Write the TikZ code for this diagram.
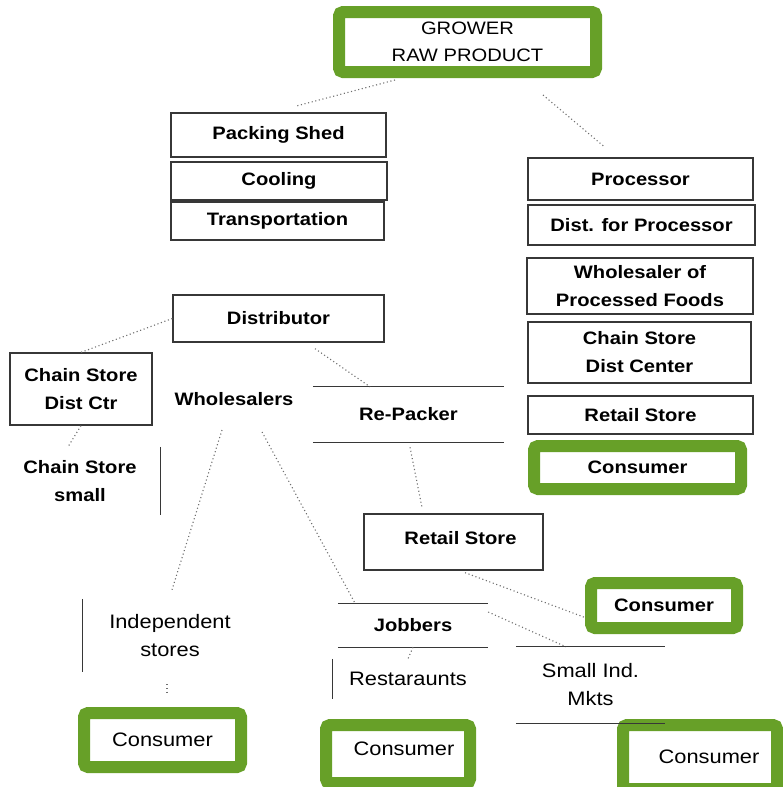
\documentclass[tikz,border=0pt]{standalone}
\usepackage{fontspec}
\setmainfont{Liberation Sans}[FakeStretch=1.12]
\definecolor{grn}{RGB}{103,160,40}
\definecolor{ln}{RGB}{55,55,55}
\definecolor{dt}{RGB}{110,110,110}
\newcommand\fbld{\fontsize{18}{28}\selectfont\bfseries}
\newcommand\freg{\fontsize{19.5}{28}\selectfont}
\newcommand\fgrw{\fontsize{18}{27}\selectfont}
\tikzset{
  box/.style={draw=ln, line width=1.3pt, inner sep=0pt, font=\fbld, align=center},
  gbox/.style={draw=grn, line width=12pt, rounded corners=4pt, inner sep=0pt, align=center, fill=white},
  openbox/.style={inner sep=0pt, align=center},
  edgeline/.style={draw=ln, line width=1.3pt},
  conn/.style={draw=dt, line width=1.1pt, dash pattern=on 1.1pt off 2.6pt},
}
\begin{document}
\begin{tikzpicture}[x=1pt,y=-1pt]
\useasboundingbox (0,0) rectangle (783,787);
% top
\node[gbox, minimum width=257pt, minimum height=60pt, font=\fgrw] (grower) at (467.5,42) {GROWER\\RAW PRODUCT};
% left column
\node[box, minimum width=215pt, minimum height=44pt] (ps) at (278.5,135) {Packing Shed};
\node[box, minimum width=216pt, minimum height=38pt] (cool) at (279,181) {Cooling};
\node[box, minimum width=213pt, minimum height=38pt] (trans) at (277.5,221) {Transportation};
% right column
\node[box, minimum width=225pt, minimum height=42pt] (proc) at (640.5,179) {Processor};
\node[box, minimum width=227pt, minimum height=40pt] (dfp) at (641.5,225) {Dist. for Processor};
\node[box, minimum width=226pt, minimum height=56pt] (wpf) at (640,286) {Wholesaler of\\Processed Foods};
\node[box, minimum width=223pt, minimum height=61pt] (csdc2) at (639.5,352.5) {Chain Store\\Dist Center};
\node[box, minimum width=225pt, minimum height=38pt] (rs1) at (640.5,415) {Retail Store};
\node[gbox, minimum width=207pt, minimum height=43pt, font=\fbld] (c1) at (637.5,467.5) {Consumer};
% middle
\node[box, minimum width=211pt, minimum height=47pt] (dist) at (278.5,318.5) {Distributor};
\node[box, minimum width=142pt, minimum height=72pt] (csdc) at (81,389) {Chain Store\\Dist Ctr};
\node[openbox, font=\fbld] (ws) at (234,399) {Wholesalers};
\node[openbox, minimum width=191pt, minimum height=55pt, font=\fbld] (rp) at (408.5,414.5) {Re-Packer};
\node[openbox, minimum width=160pt, minimum height=68pt, font=\fbld] (css) at (80,481) {Chain Store\\small};
\node[box, minimum width=179pt, minimum height=56pt] (rs2) at (453.5,542) {\raisebox{8pt}{\hspace*{14pt}Retail Store}};
\node[gbox, minimum width=146pt, minimum height=45pt, font=\fbld] (c2) at (664,605.5) {Consumer};
% bottom
\node[openbox, minimum width=174pt, minimum height=73pt, font=\freg] (ind) at (170,635.5) {Independent\\stores};
\node[gbox, minimum width=157pt, minimum height=54pt, font=\freg] (c3) at (162.5,740) {Consumer};
\node[openbox, minimum width=150pt, minimum height=43pt, font=\fbld] (job) at (413,625.5) {Jobbers};
\node[openbox, minimum width=150pt, minimum height=40pt, font=\freg] (rest) at (408,679) {Restaraunts};
\node[gbox, minimum width=144pt, minimum height=58pt, font=\freg] (c4) at (398,754) {\raisebox{10pt}{\hspace*{12pt}Consumer}};
\node[gbox, minimum width=154pt, minimum height=64pt, font=\freg] (c5) at (700,757) {\hspace*{18pt}Consumer};
\node[openbox, minimum width=149pt, minimum height=76pt, font=\freg] (sim) at (590.5,685) {Small Ind.\\Mkts};
% open box edges
\draw[edgeline] (rp.north west) -- (rp.north east) (rp.south west) -- (rp.south east);
\draw[edgeline] (css.north east) -- (css.south east);
\draw[edgeline] (ind.north west) -- (ind.south west);
\draw[edgeline] (job.north west) -- (job.north east) (job.south west) -- (job.south east);
\draw[edgeline] (rest.north west) -- (rest.south west);
\draw[edgeline] (sim.north west) -- (sim.north east) (sim.south west) -- (sim.south east);
% connectors
\draw[conn] ([xshift=-72.5pt,yshift=-2pt]grower.south) -- ([xshift=16.5pt,yshift=6pt]ps.north);
\draw[conn] ([xshift=75.5pt,yshift=-17pt]grower.south) -- ([xshift=-35.5pt,yshift=10pt]proc.north);
\draw[conn] (dist.west) -- (csdc.north);
\draw[conn] ([xshift=36.5pt,yshift=-6pt]dist.south) -- ([xshift=-38.5pt]rp.north);
\draw[conn] (csdc.south) -- ([xshift=-12pt]css.north);
\draw[conn] ([xshift=-12pt,yshift=-31pt]ws.center) -- ([xshift=2pt,yshift=9pt]ind.north);
\draw[conn] ([xshift=28pt,yshift=-33pt]ws.center) -- ([xshift=17pt,yshift=1pt]job.north west);
\draw[conn] ([xshift=1.5pt,yshift=-5pt]rp.south) -- ([xshift=-31.5pt,yshift=6pt]rs2.north);
\draw[conn] ([xshift=11.5pt,yshift=-2pt]rs2.south) -- ([yshift=-12pt]c2.west);
\draw[conn] ([yshift=13.5pt]job.east) -- ([xshift=-24.5pt]sim.north);
\draw[conn] (job.south) -- (rest.north);
\draw[conn] ([xshift=-3pt,yshift=-12pt]ind.south) -- ([xshift=4.5pt,yshift=14pt]c3.north);
\end{tikzpicture}
\end{document}
